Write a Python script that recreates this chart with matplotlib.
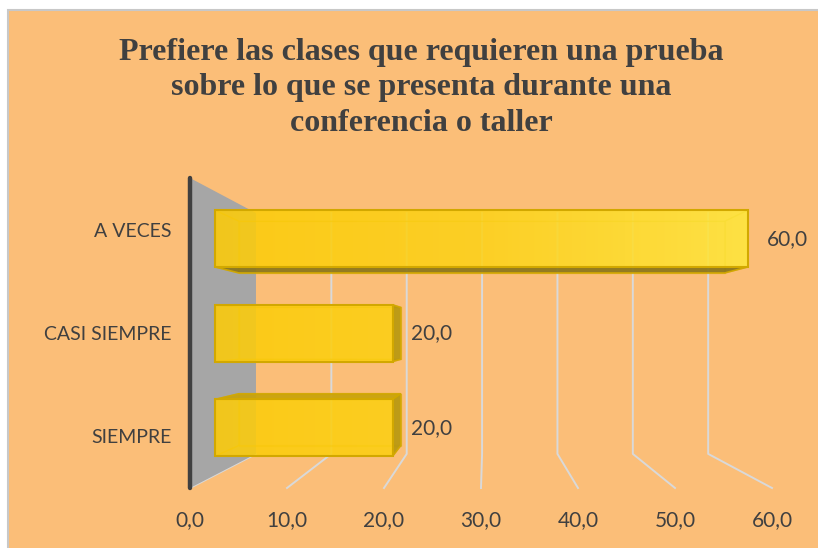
import numpy as np
import matplotlib
matplotlib.use("Agg")
import matplotlib.pyplot as plt
from matplotlib.patches import Polygon, Rectangle
from matplotlib.colors import LinearSegmentedColormap

# ---------------------------------------------------------------
# DATA
# ---------------------------------------------------------------
categories = ["SIEMPRE", "CASI SIEMPRE", "A VECES"]
values = [20.0, 20.0, 60.0]
xticks = [0, 10, 20, 30, 40, 50, 60]
title = ("Prefiere las clases que requieren una prueba\n"
         "sobre lo que se presenta durante una\n"
         "conferencia o taller")

# ---------------------------------------------------------------
# COLORS
# ---------------------------------------------------------------
BG, TXT = "#FBBE78", "#404040"
GRID, WALL = "#D9D9D9", "#A6A6A6"
EDGE = "#D2A800"
BOTTOM_FACE, TOP_FACE, END_FACE = "#8A761A", "#C8A20A", "#B8980F"

plt.rcParams["font.family"] = ["Lato", "DejaVu Sans"]

W, H = 818, 548
fig = plt.figure(figsize=(W / 100, H / 100), dpi=100, facecolor="white")
fig.patches.append(Rectangle((8 / W, -0.01), 1.0, 1.01 - 10 / H,
                             transform=fig.transFigure, fc=BG,
                             ec="#C8C8C8", lw=1.5, zorder=-10))

# front plane of the 3d box: value 0..60 wide, 3 category slots high
ax = fig.add_axes([190 / W, 1 - 488 / H, 582 / W, 310 / H])
ax.patch.set_visible(False)
ax.set_xlim(0, 60)
ax.set_ylim(0, 3)
for s in ax.spines.values():
    s.set_visible(False)

# simple perspective: shrink towards a vanishing point with depth
VX, VY, SHRINK = 30.5, 1.48, 0.223


def P(v, u, d):
    k = 1 - SHRINK * d
    return VX + k * (v - VX), VY + k * (u - VY)


n = len(categories)

# walls and gridlines
for t in xticks:
    bx, bb = P(t, 0, 1)
    _, bt = P(t, n, 1)
    fx, fy = P(t, 0, 0)
    if t == 0:
        ax.plot([bx, fx], [bb, fy], color=GRID, lw=1.4, zorder=1, clip_on=False)
    else:
        ax.plot([bx, bx, fx], [bt, bb, fy], color=GRID, lw=1.4, zorder=1,
                clip_on=False)

ax.add_patch(Polygon([P(0, 0, 0), P(0, n, 0), P(0, n, 1), P(0, 0, 1)],
                     closed=True, fc=WALL, ec="none", zorder=2, clip_on=False))
ax.plot(*zip(P(0, 0, 0), P(0, n, 0)), color=TXT, lw=3.2,
        solid_capstyle="round", zorder=3, clip_on=False)

# bars
D1, D2, BH = 0.38, 0.74, 0.6
k1 = 1 - SHRINK * D1
slots = np.arange(n) + 0.5
left = P(0, 0, D1)[0]
centers = [P(0, s, D1)[1] for s in slots]
widths = [k1 * v for v in values]

grad_cmap = LinearSegmentedColormap.from_list("g", ["#FCCB08", "#FDD21A", "#FFE840"])

for s, v in zip(slots, values):
    y0, y1 = s - BH / 2, s + BH / 2
    FLb, FLt, FRb, FRt = P(0, y0, D1), P(0, y1, D1), P(v, y0, D1), P(v, y1, D1)
    BLb, BLt, BRb, BRt = P(0, y0, D2), P(0, y1, D2), P(v, y0, D2), P(v, y1, D2)
    faces = {
        "bottom": ([FLb, FRb, BRb, BLb], y0 > VY, BOTTOM_FACE),
        "top": ([FLt, FRt, BRt, BLt], y1 < VY, TOP_FACE),
        "right": ([FRb, FRt, BRt, BRb], v < VX, END_FACE),
        "left": ([FLb, FLt, BLt, BLb], False, END_FACE),
    }
    # hidden edges, seen through the translucent bar
    ax.add_patch(Polygon([BLb, BLt, BRt, BRb], closed=True, fc="none",
                         ec=EDGE, lw=0.9, alpha=0.5, zorder=4, clip_on=False))
    for pts, vis, col in faces.values():
        if not vis:
            ax.add_patch(Polygon(pts, closed=True, fc="none", ec=EDGE, lw=0.9,
                                 alpha=0.5, zorder=4, clip_on=False))
    for pts, vis, col in faces.values():
        if vis:
            ax.add_patch(Polygon(pts, closed=True, fc=col, ec=EDGE, lw=1.2,
                                 alpha=0.92, zorder=5, clip_on=False))

bars = ax.barh(centers, widths, height=k1 * BH, left=left, color="none",
               edgecolor=EDGE, lw=1.5, zorder=7, clip_on=False)

for b in bars:
    x0, yb = b.get_x(), b.get_y()
    x1, yt = x0 + b.get_width(), yb + b.get_height()
    g = np.linspace(x0, x1, 256)[None, :] / 60.0
    im = ax.imshow(g, extent=[x0, x1, yb, yt], cmap=grad_cmap, vmin=0, vmax=1,
                   aspect="auto", alpha=0.88, zorder=6, interpolation="bilinear")
    im.set_clip_path(b)
ax.set_xlim(0, 60)
ax.set_ylim(0, 3)

# data labels
for s, v in zip(slots, values):
    ax.annotate(f"{v:.1f}".replace(".", ","), xy=P(v, s, D1), xytext=(13.5, 0),
                textcoords="offset points", ha="left", va="center",
                fontsize=15, color=TXT, zorder=8, annotation_clip=False)

# axes labels
ax.set_yticks(slots)
ax.set_yticklabels(categories, fontsize=14, color=TXT)
ax.set_xticks(xticks)
ax.set_xticklabels([f"{t:.1f}".replace(".", ",") for t in xticks],
                   fontsize=15, color=TXT)
ax.tick_params(axis="y", length=0, pad=13.5)
ax.tick_params(axis="x", length=0, pad=16)

fig.text(421 / W, 1 - 88 / H, title, ha="center", va="center", fontsize=23,
         family="Liberation Serif", weight="bold", color=TXT, linespacing=1.28)

plt.savefig("out.png", dpi=100, facecolor="white")
plt.close()
